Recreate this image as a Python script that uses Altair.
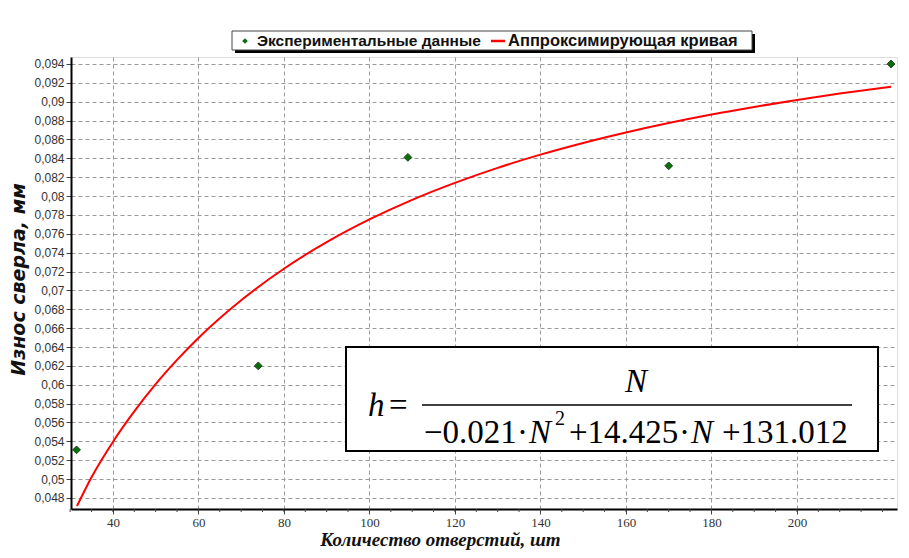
import altair as alt
import pandas as pd

exp_n = [31.5, 74, 109, 170, 222]
exp_h = [0.0531, 0.0620, 0.0841, 0.0832, 0.0940]

# Approximating curve
curve_n = [31.6, 35, 40, 45, 50, 55, 60, 70, 80, 90, 100, 110, 120, 130, 140, 150, 160, 170, 180, 190, 200, 210, 222]
curve_h = [0.04715, 0.05020, 0.05394, 0.05717, 0.06006, 0.06263, 0.06496, 0.06896, 0.07230, 0.07511,
           0.07752, 0.07960, 0.08140, 0.08299, 0.08439, 0.08563, 0.08674, 0.08774, 0.08864, 0.08945,
           0.09019, 0.09086, 0.09159]

x_ticks = [40, 60, 80, 100, 120, 140, 160, 180, 200]
y_ticks = [round(0.048 + 0.002 * i, 3) for i in range(24)]
minor_ticks = list(range(30, 224, 5))

legend_labels = ["Экспериментальные данные", "Аппроксимирующая кривая"]
x_title = "Количество отверстий, шт"
y_title = "Износ сверла, мм"

W, H = 826, 452
X_DOM = [30.2, 223.4]
Y_DOM = [0.04683, 0.09474]

exp_df = pd.DataFrame({"n": exp_n, "h": exp_h})
curve_df = pd.DataFrame({"n": curve_n, "h": curve_h})
minor_df = pd.DataFrame({"n": minor_ticks})

xs = alt.Scale(domain=X_DOM, nice=False, zero=False)
ys = alt.Scale(domain=Y_DOM, nice=False, zero=False)

x_axis = alt.Axis(values=x_ticks, title=x_title, grid=True, gridDash=[4, 3], gridColor="#9a9a9a",
                  domainColor="black", domainWidth=2, tickColor="#444", tickSize=5,
                  labelFont="Liberation Sans Narrow", labelFontSize=13, labelColor="#333",
                  labelPadding=2, labelOverlap=False,
                  titleFont="Liberation Sans Narrow", titleFontSize=19, titleFontStyle="italic",
                  titleFontWeight="bold", titleColor="#111",
                  titleX=369, titleY=36, titleAlign="center", titleBaseline="alphabetic")
y_axis = alt.Axis(values=y_ticks, title=y_title, grid=True, gridDash=[4, 3], gridColor="#9a9a9a",
                  domainColor="black", domainWidth=2, tickColor="#444", tickSize=5,
                  labelExpr="replace(format(datum.value, '.3~f'), '.', ',')",
                  labelFont="Liberation Sans", labelFontSize=12, labelColor="#333", labelPadding=2,
                  labelOverlap=False,
                  titleFont="DejaVu Sans", titleFontSize=19, titleFontStyle="italic",
                  titleFontWeight="bold", titleColor="#111",
                  titleX=-53, titleY=222, titleAlign="center", titleBaseline="middle", titleAngle=270)

X = alt.X("n:Q", scale=xs, axis=x_axis)
Y = alt.Y("h:Q", scale=ys, axis=y_axis)

minor = alt.Chart(minor_df).mark_rule(color="#444", strokeWidth=1).encode(
    x=X, y=alt.value(H), y2=alt.value(H + 3))

curve = alt.Chart(curve_df).mark_line(color="#ff0000", strokeWidth=2, interpolate="monotone").encode(
    x=X, y=Y)

points = alt.Chart(exp_df).mark_point(shape="diamond", filled=True, color="#0a6e0a", size=62,
                                      stroke="#103010", strokeWidth=0.8, opacity=1).encode(
    x=X, y=Y)

one = pd.DataFrame({"a": [0]})

# Legend (custom, above plot)
lg_shadow = alt.Chart(one).mark_rect(color="black").encode(
    x=alt.value(164), x2=alt.value(684), y=alt.value(-23), y2=alt.value(-4))
lg_box = alt.Chart(one).mark_rect(fill="white", stroke="#444", strokeWidth=1).encode(
    x=alt.value(161), x2=alt.value(681), y=alt.value(-26), y2=alt.value(-7))
lg_dia = alt.Chart(one).mark_point(shape="diamond", filled=True, color="#0a6e0a", size=32, opacity=1).encode(
    x=alt.value(174), y=alt.value(-16))
lg_line = alt.Chart(one).mark_rule(color="#ff0000", strokeWidth=2.5).encode(
    x=alt.value(420), x2=alt.value(434), y=alt.value(-16))
lg_t1 = alt.Chart(one).mark_text(text=legend_labels[0], font="Liberation Sans", fontWeight="bold",
                                 fontSize=15.5, align="left", baseline="middle", color="#111").encode(
    x=alt.value(186), y=alt.value(-16))
lg_t2 = alt.Chart(one).mark_text(text=legend_labels[1], font="Liberation Sans", fontWeight="bold",
                                 fontSize=16.5, align="left", baseline="middle", color="#111").encode(
    x=alt.value(437), y=alt.value(-16))

# Formula box
OX, OY = 71, 57
fb = alt.Chart(one).mark_rect(fill="white", stroke="black", strokeWidth=2).encode(
    x=alt.value(346 - OX), x2=alt.value(878 - OX), y=alt.value(347 - OY), y2=alt.value(451 - OY))
frac = alt.Chart(one).mark_rule(color="black", strokeWidth=1.5).encode(
    x=alt.value(422 - OX), x2=alt.value(852 - OX), y=alt.value(405 - OY))


def txt(s, x, y, size=33, italic=False, align="left"):
    kw = dict(text=s, font="Liberation Serif", fontSize=size, align=align, baseline="alphabetic", color="black")
    if italic:
        kw["fontStyle"] = "italic"
    return alt.Chart(one).mark_text(**kw).encode(x=alt.value(x - OX), y=alt.value(y - OY))


formula = [
    txt("h", 368, 416, italic=True),
    txt("=", 389, 416),
    txt("N", 636, 392, italic=True, align="center"),
    txt("−0.021", 424, 443),
    txt("·", 517, 443),
    txt("N", 529, 443, italic=True),
    txt("2", 555, 425, size=20),
    txt("+14.425", 569, 443),
    txt("·", 679, 443),
    txt("N", 691, 443, italic=True),
    txt("+131.012", 722, 443),
]

chart = alt.layer(minor, curve, points, lg_shadow, lg_box, lg_dia, lg_line, lg_t1, lg_t2,
                  fb, frac, *formula).properties(
    width=W, height=H, autosize=alt.AutoSizeParams(type="none"),
    padding={"left": 63, "top": 49, "right": 4, "bottom": 41}
).configure_view(stroke="#777", strokeWidth=2).configure_axis(labelOverlap=False).configure(background="white")

chart.save("out.html", embed_options={"renderer": "svg", "actions": False})
